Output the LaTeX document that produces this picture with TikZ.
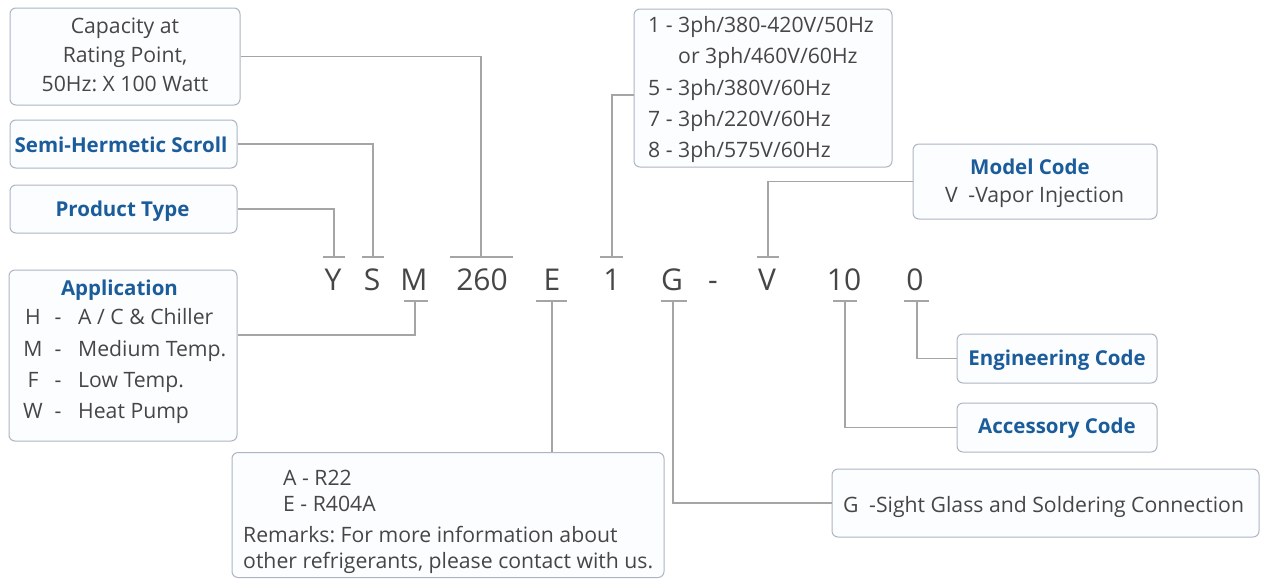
\documentclass[tikz,border=0pt]{standalone}
\usepackage{fontspec}
\setmainfont{Open Sans}
\frenchspacing
\definecolor{boxc}{RGB}{172,182,194}
\definecolor{boxfill}{RGB}{252,253,255}
\definecolor{titlec}{RGB}{27,92,155}
\definecolor{txt}{RGB}{70,70,70}
\definecolor{linec}{RGB}{165,165,165}
\begin{document}
\begin{tikzpicture}[x=1pt,y=-1pt,
 box/.style={draw=boxc, fill=boxfill, rounded corners=6pt, line width=1pt, inner sep=0pt},
 conn/.style={draw=linec, line width=1.2pt},
 tickmark/.style={draw=linec, line width=1.2pt},
 ttl/.style={text=titlec, font=\fontsize{20.5}{24}\selectfont\bfseries, inner sep=0pt},
 body/.style={text=txt, font=\fontsize{21.2}{24}\selectfont, inner sep=0pt},
 codech/.style={text=txt, font=\fontsize{30}{36}\selectfont, inner sep=0pt, anchor=base}]
\fill[white] (0,0) rectangle (1263,579);
\useasboundingbox (0,0) rectangle (1263,579);

% code letters
\node[codech] (cY) at (333,290) {Y};
\node[codech] (cS) at (372,290) {S};
\node[codech] (cM) at (414,290) {M};
\node[codech] (c260) at (482,290) {260};
\node[codech] (cE) at (552,290) {E};
\node[codech] (c1) at (612,290) {1};
\node[codech] (cG) at (672,290) {G};
\node[codech] (cdash) at (713,290) {-};
\node[codech] (cV) at (767,290) {V};
\node[codech] (c10) at (844,290) {10};
\node[codech] (c0) at (915,290) {0};

% tick coordinates
\coordinate (tY) at (334,257);
\coordinate (tS) at (373,257);
\coordinate (t260) at (481,257);
\coordinate (t1) at (612,257);
\coordinate (tV) at (768,257);
\coordinate (bM) at (415,301);
\coordinate (bE) at (552,301);
\coordinate (bG) at (673,301);
\coordinate (b10) at (845,301);
\coordinate (b0) at (917,301);

\draw[tickmark] ([xshift=-11pt]tY) -- ([xshift=11pt]tY);
\draw[tickmark] ([xshift=-11pt]tS) -- ([xshift=11pt]tS);
\draw[tickmark] ([xshift=-31pt]t260) -- ([xshift=32pt]t260);
\draw[tickmark] ([xshift=-12pt]t1) -- ([xshift=11pt]t1);
\draw[tickmark] ([xshift=-11pt]tV) -- ([xshift=11pt]tV);
\draw[tickmark] ([xshift=-11pt]bM) -- ([xshift=13pt]bM);
\draw[tickmark] ([xshift=-16pt]bE) -- ([xshift=15pt]bE);
\draw[tickmark] ([xshift=-12pt]bG) -- ([xshift=14pt]bG);
\draw[tickmark] ([xshift=-12pt]b10) -- ([xshift=12pt]b10);
\draw[tickmark] ([xshift=-13pt]b0) -- ([xshift=12pt]b0);

% boxes
\node[box, minimum width=230pt, minimum height=97pt] (cap) at (125,56.5) {};
\node[box, minimum width=227pt, minimum height=48pt] (semi) at (123.5,144) {};
\node[box, minimum width=227pt, minimum height=48pt] (prod) at (123.5,209) {};
\node[box, minimum width=228pt, minimum height=171pt] (app) at (123,355.5) {};
\node[box, minimum width=258pt, minimum height=158pt] (volt) at (763,88) {};
\node[box, minimum width=244pt, minimum height=75pt] (model) at (1035,181.5) {};
\node[box, minimum width=200pt, minimum height=49pt] (eng) at (1057,358.5) {};
\node[box, minimum width=200pt, minimum height=49pt] (acc) at (1057,427.5) {};
\node[box, minimum width=432pt, minimum height=125pt] (ref) at (448,515) {};
\node[box, minimum width=427pt, minimum height=68pt] (gbox) at (1045.5,503) {};

% connectors
\draw[conn] (cap.east) -| (t260);
\draw[conn] (semi.east) -| (tS);
\draw[conn] (prod.east) -| (tY);
\draw[conn] (bM) |- ([yshift=20.5pt]app.east);
\draw[conn] (bE) -- (bE |- ref.north);
\draw[conn] (bG) |- (gbox.west);
\draw[conn] (t1) |- ([yshift=-7pt]volt.west);
\draw[conn] (tV) |- (model.west);
\draw[conn] (b10) |- (acc.west);
\draw[conn] (b0) |- (eng.west);

% box texts
\node[body, anchor=base] (capA) at (125,33) {Capacity at};
\node[body, anchor=base] (capB) at (125,62) {Rating Point,};
\node[body, anchor=base] (capC) at (125,91) {50Hz: X 100 Watt};
\node[ttl, anchor=base] (semiT) at (121,152) {Semi-Hermetic Scroll};
\node[ttl, anchor=base] (prodT) at (122.5,216) {Product Type};

\node[ttl, anchor=base] (appT) at (119.5,295) {Application};
\node[body, anchor=base] (aH) at (33,324) {H};
\node[body, anchor=base] (aM) at (33,356) {M};
\node[body, anchor=base] (aF) at (33,387) {F};
\node[body, anchor=base] (aW) at (33,418) {W};
\node[body, anchor=base] (dH) at (58,324) {-};
\node[body, anchor=base] (dM) at (58,356) {-};
\node[body, anchor=base] (dF) at (58,387) {-};
\node[body, anchor=base] (dW) at (58,418) {-};
\node[body, anchor=base west] (tH) at (78,324) {A / C \& Chiller};
\node[body, anchor=base west] (tM) at (78,356) {Medium Temp.};
\node[body, anchor=base west] (tF) at (78,387) {Low Temp.};
\node[body, anchor=base west] (tW) at (78,418) {Heat Pump};

\node[body, anchor=base west] (v1) at (648,32) {1 - 3ph/380-420V/50Hz};
\node[body, anchor=base west] (v1b) at (678,63) {or 3ph/460V/60Hz};
\node[body, anchor=base west] (v5) at (648,95) {5 - 3ph/380V/60Hz};
\node[body, anchor=base west] (v7) at (648,126) {7 - 3ph/220V/60Hz};
\node[body, anchor=base west] (v8) at (648,157) {8 - 3ph/575V/60Hz};

\node[ttl, anchor=base] (modelT) at (1030,174) {Model Code};
\node[body, anchor=base west] (modelV) at (945,202) {V\hspace{0.5em}-Vapor Injection};

\node[ttl, anchor=base] (engT) at (1057,365) {Engineering Code};
\node[ttl, anchor=base] (accT) at (1057,433) {Accessory Code};

\node[body, anchor=base west] (rA) at (283,485) {A - R22};
\node[body, anchor=base west] (rE) at (283,511) {E - R404A};
\node[body, anchor=base west] (rR1) at (243,542) {Remarks: For more information about};
\node[body, anchor=base west] (rR2) at (243,568) {other refrigerants, please contact with us.};

\node[body, anchor=base west] (gT) at (843,512) {G\hspace{0.5em}-Sight Glass and Soldering Connection};
\end{tikzpicture}
\end{document}
